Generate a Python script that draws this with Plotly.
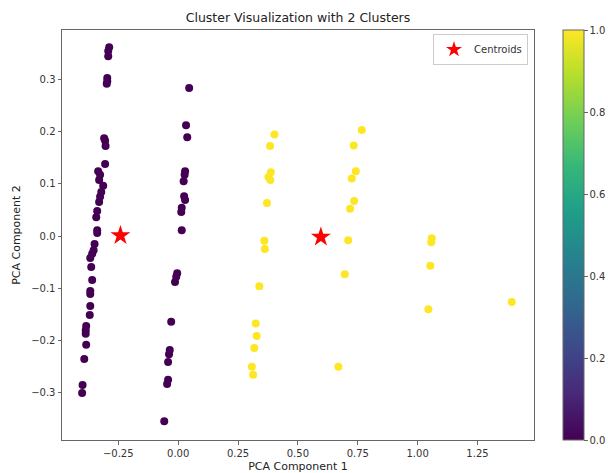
import plotly.graph_objects as go

# Column groups of points (PCA component 1, PCA component 2) and cluster labels
pc1_a = [-0.288, -0.292, -0.292, -0.296, -0.296, -0.298, -0.309, -0.305, -0.303, -0.305,
         -0.334, -0.326, -0.330, -0.313, -0.321, -0.326, -0.330, -0.338, -0.342, -0.338,
         -0.338, -0.349, -0.353, -0.359, -0.367, -0.363, -0.359, -0.367, -0.367, -0.367,
         -0.369, -0.384, -0.386, -0.386, -0.384, -0.392, -0.399, -0.401]
pc2_a = [0.361, 0.354, 0.344, 0.302, 0.296, 0.291, 0.187, 0.182, 0.172, 0.138,
         0.124, 0.117, 0.107, 0.096, 0.084, 0.075, 0.065, 0.048, 0.036, 0.011,
         0.006, -0.015, -0.027, -0.034, -0.042, -0.059, -0.084, -0.105, -0.111, -0.134,
         -0.151, -0.172, -0.180, -0.187, -0.208, -0.235, -0.285, -0.300]

pc1_b = [0.046, 0.033, 0.038, 0.029, 0.027, 0.023, 0.025, 0.029, 0.015, 0.013, 0.015,
         -0.004, -0.008, -0.013, -0.029, -0.035, -0.038, -0.042, -0.042, -0.046, -0.058]
pc2_b = [0.283, 0.212, 0.189, 0.124, 0.117, 0.105, 0.076, 0.069, 0.054, 0.046, 0.011,
         -0.071, -0.078, -0.088, -0.164, -0.218, -0.226, -0.241, -0.275, -0.283, -0.354]

pc1_c = [0.402, 0.384, 0.387, 0.377, 0.385, 0.371, 0.360, 0.362, 0.339, 0.324, 0.328,
         0.318, 0.308, 0.313,
         0.767, 0.733, 0.742, 0.725, 0.735, 0.718, 0.710, 0.696, 0.669,
         1.059, 1.057, 1.053, 1.045, 1.393]
pc2_c = [0.194, 0.172, 0.122, 0.113, 0.107, 0.063, -0.009, -0.025, -0.096, -0.167, -0.191,
         -0.214, -0.250, -0.265,
         0.203, 0.173, 0.124, 0.110, 0.067, 0.052, -0.008, -0.073, -0.250,
         -0.004, -0.012, -0.057, -0.140, -0.126]

labels_ab = [0] * (len(pc1_a) + len(pc1_b))
labels_c = [1] * len(pc1_c)

centroid_x = [-0.241, 0.596]
centroid_y = [0.001, -0.002]

x_all = pc1_a + pc1_b + pc1_c
y_all = pc2_a + pc2_b + pc2_c
lab_all = labels_ab + labels_c

FONT = "DejaVu Sans"
SPINE = "#666666"
TXT = "#333333"

fig = go.Figure()
fig.add_trace(go.Scatter(
    x=x_all, y=y_all, mode="markers", showlegend=False,
    marker=dict(size=8, color=lab_all, colorscale="Viridis", cmin=0, cmax=1,
                line=dict(width=0), showscale=True,
                colorbar=dict(x=(563 - 62) / 472, xanchor="left", xref="paper", y=0.5, yanchor="middle",
                              len=1.0, lenmode="fraction", thickness=21, thicknessmode="pixels",
                              outlinewidth=1, outlinecolor=SPINE,
                              tickmode="array", tickvals=[0, 0.2, 0.4, 0.6, 0.8, 1.0],
                              ticktext=["0.0", "0.2", "0.4", "0.6", "0.8", "1.0"],
                              ticks="outside", ticklen=3.5, tickcolor=SPINE,
                              tickfont=dict(family=FONT, size=10, color=TXT),
                              xpad=0, ypad=0)),
    hoverinfo="skip"))
fig.add_trace(go.Scatter(
    x=centroid_x, y=centroid_y, mode="markers", name="Centroids",
    marker=dict(symbol="star", size=15, color="red", line=dict(width=0))))

fig.update_layout(
    width=608, height=473,
    margin=dict(l=62, r=74, t=30, b=33, autoexpand=False),
    paper_bgcolor="white", plot_bgcolor="white",
    title=dict(text="Cluster Visualization with 2 Clusters", x=0.5, xref="paper",
               y=1 - 18 / 473, yref="container", xanchor="center", yanchor="middle",
               font=dict(family=FONT, size=12.5, color="#222222")),
    legend=dict(x=1 - 6 / 472, y=1 - 4 / 410, xanchor="right", yanchor="top",
                bgcolor="rgba(255,255,255,0.8)", bordercolor="#cccccc", borderwidth=1,
                font=dict(family=FONT, size=10, color=TXT),
                itemsizing="constant", itemwidth=30, tracegroupgap=0),
    font=dict(family=FONT, size=10, color=TXT),
)
fig.update_xaxes(range=[-0.485, 1.486], showgrid=False, zeroline=False, automargin=False,
                 showline=True, mirror=True, linecolor=SPINE, linewidth=1,
                 ticks="outside", ticklen=3.5, tickcolor=SPINE,
                 tick0=0, dtick=0.25, tickformat=".2f",
                 tickfont=dict(family=FONT, size=10, color=TXT),
                 title=dict(text="PCA Component 1", standoff=5,
                            font=dict(family=FONT, size=11, color="#222222")))
fig.update_yaxes(range=[-0.390, 0.394], showgrid=False, zeroline=False, automargin=False,
                 showline=True, mirror=True, linecolor=SPINE, linewidth=1,
                 ticks="outside", ticklen=3.5, tickcolor=SPINE,
                 tick0=0, dtick=0.1, tickformat=".1f",
                 tickfont=dict(family=FONT, size=10, color=TXT),
                 title=dict(text="PCA Component 2", standoff=8,
                            font=dict(family=FONT, size=11, color="#222222")))

fig.write_html("out.html", config={"displayModeBar": False},
               post_script="document.body.style.margin='0';document.body.style.overflow='hidden';")
